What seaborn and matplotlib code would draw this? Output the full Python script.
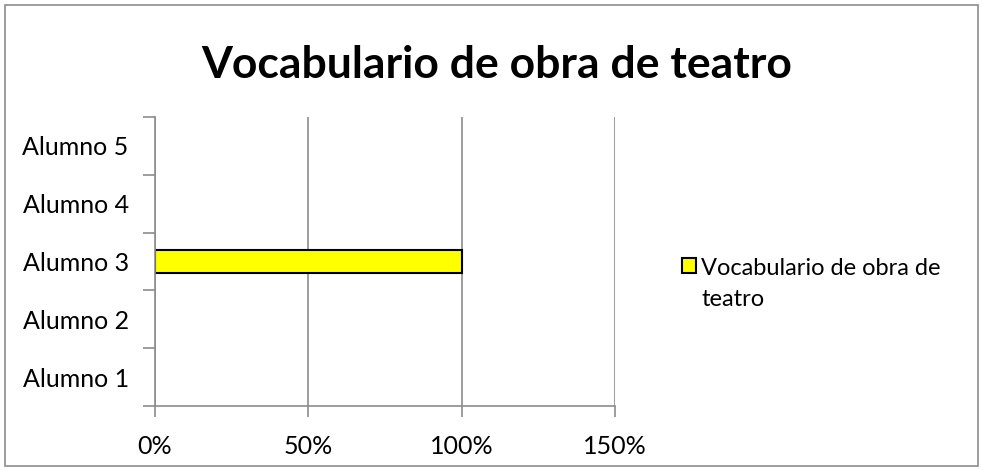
import matplotlib
matplotlib.use("Agg")
import matplotlib.pyplot as plt
import matplotlib.patches as mpatches
from matplotlib.legend_handler import HandlerPatch
from matplotlib.ticker import PercentFormatter, FixedLocator
import numpy as np
import pandas as pd
import seaborn as sns

# data
students = ["Alumno 1", "Alumno 2", "Alumno 3", "Alumno 4", "Alumno 5"]
scores = [np.nan, np.nan, 1.0, np.nan, np.nan]
series_name = "Vocabulario de obra de teatro"
legend_label = "Vocabulario de obra de\nteatro"
x_ticks = [0, 0.5, 1.0, 1.5]

df = pd.DataFrame({"alumno": students, "valor": scores})

sns.set_style("white")
plt.rcParams["font.family"] = ["Lato", "DejaVu Sans"]
plt.rcParams["text.color"] = "black"

fig = plt.figure(figsize=(9.83, 4.70), dpi=100)
ax = fig.add_axes([0.1577, 0.1362, 0.4679, 0.6149])

sns.barplot(data=df, x="valor", y="alumno", order=students, orient="h",
            color="#FFFF00", edgecolor="black", linewidth=1.5, width=0.4,
            saturation=1, ax=ax)
ax.invert_yaxis()
ax.set_ylim(-0.5, len(students) - 0.5)
ax.set_xlim(0, 1.5)

# x axis
ax.xaxis.set_major_locator(FixedLocator(x_ticks))
ax.xaxis.set_major_formatter(PercentFormatter(1.0, decimals=0))
ax.grid(axis="x", color="#8c8c8c", linewidth=1.2)
ax.grid(axis="y", visible=False)
ax.set_axisbelow(True)

# y axis: ticks on category boundaries, labels at centres
ax.yaxis.set_major_locator(FixedLocator(list(np.arange(-0.5, len(students), 1.0))))
ax.yaxis.set_minor_locator(FixedLocator(list(range(len(students)))))
ax.set_yticklabels([])
ax.set_yticklabels(students, minor=True)
ax.tick_params(axis="y", which="minor", length=0, pad=19, labelsize=18, labelcolor="black")
ax.tick_params(axis="y", which="major", length=9, width=1.2, color="#8c8c8c", left=True)
ax.tick_params(axis="x", which="major", length=8, width=1.2, color="#8c8c8c",
               bottom=True, pad=13, labelsize=18, labelcolor="black")

ax.set_xlabel("")
ax.set_ylabel("")
for side in ["top", "right"]:
    ax.spines[side].set_visible(False)
for side in ["left", "bottom"]:
    ax.spines[side].set_color("#8c8c8c")
    ax.spines[side].set_linewidth(1.2)

fig.suptitle(series_name, x=0.505, y=0.862, fontsize=32, fontweight="bold",
             va="center", color="black")


# legend square sits beside the first line of the wrapped label
def first_line_patch(legend, orig_handle, xdescent, ydescent, width, height, fontsize):
    return mpatches.Rectangle((-xdescent, -ydescent + 0.79 * fontsize), width, height)


handle = mpatches.Patch(facecolor="#FFFF00", edgecolor="black", linewidth=1.5)
leg = fig.legend([handle], [legend_label], loc="center left",
                 bbox_to_anchor=(0.672, 0.3965), frameon=False, fontsize=17,
                 handlelength=0.62, handleheight=0.62, handletextpad=0.2,
                 handler_map={mpatches.Patch: HandlerPatch(patch_func=first_line_patch)})
for t in leg.get_texts():
    t.set_linespacing(1.6)

fig.patches.append(mpatches.Rectangle((0.005, 0.008), 0.99, 0.982, transform=fig.transFigure,
                                      fill=False, edgecolor="#8c8c8c", linewidth=1.2))

fig.savefig("out.png", dpi=100)
